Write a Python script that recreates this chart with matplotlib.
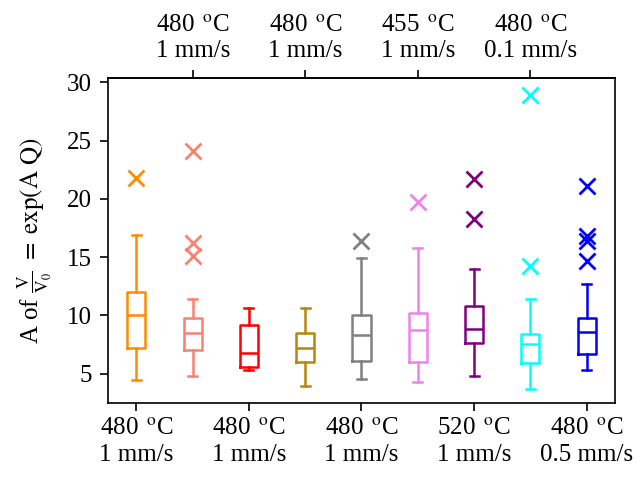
import matplotlib
matplotlib.use("Agg")
import matplotlib.pyplot as plt

plt.rcParams.update({
    "font.family": "serif",
    "font.serif": ["Liberation Serif", "DejaVu Serif"],
    "mathtext.fontset": "stix",
    "font.size": 18,
    "axes.linewidth": 1.2,
    "xtick.major.size": 6,
    "ytick.major.size": 6,
    "xtick.major.width": 1.2,
    "ytick.major.width": 1.2,
    "xtick.major.pad": 5,
    "ytick.major.pad": 6,
})

# ---- data ------------------------------------------------------------------
COLORS = ["darkorange", "salmon", "red", "darkgoldenrod", "gray",
          "violet", "purple", "cyan", "blue"]
WHISLO = [4.4, 4.8, 5.3, 3.9, 4.5, 4.3, 4.8, 3.7, 5.3]
Q1 = [7.2, 7.0, 5.6, 6.0, 6.1, 6.0, 7.6, 5.9, 6.7]
MED = [10.0, 8.5, 6.8, 7.2, 8.3, 8.7, 8.8, 7.5, 8.6]
Q3 = [12.0, 9.8, 9.2, 8.5, 10.0, 10.2, 10.8, 8.4, 9.8]
WHISHI = [16.9, 11.4, 10.6, 10.6, 14.9, 15.8, 14.0, 11.4, 12.7]
FLIERS = [[21.8], [24.1, 16.2, 15.1], [], [], [16.4], [19.7],
          [21.7, 18.3], [28.9, 14.2], [21.1, 16.8, 16.4, 14.7]]

DEG = " $^{\\,\\mathrm{o}}$C"
BOTTOM_LABELS = ["480" + DEG + "\n1 mm/s", "480" + DEG + "\n1 mm/s",
                 "480" + DEG + "\n1 mm/s", "520" + DEG + "\n1 mm/s",
                 "480" + DEG + "\n0.5 mm/s"]
TOP_LABELS = ["480" + DEG + "\n1 mm/s", "480" + DEG + "\n1 mm/s",
              "455" + DEG + "\n1 mm/s", "480" + DEG + "\n0.1 mm/s"]

fig = plt.figure(figsize=(6.37, 4.8), dpi=100)
ax = fig.add_axes([0.17, 0.16, 0.795, 0.678])

for i, c in enumerate(COLORS):
    st = dict(whislo=WHISLO[i], q1=Q1[i], med=MED[i], q3=Q3[i],
              whishi=WHISHI[i], fliers=FLIERS[i])
    lp = dict(color=c, linewidth=1.8)
    ax.bxp([st], positions=[i + 1], widths=0.32,
           boxprops=lp, medianprops=lp, whiskerprops=lp, capprops=lp,
           flierprops=dict(marker="x", markeredgecolor=c, markersize=12,
                           markeredgewidth=2, linestyle="none"))

ax.set_xlim(0.5, 9.5)
ax.set_ylim(2.45, 30.4)
ax.set_yticks([5, 10, 15, 20, 25, 30])
ax.set_xticks([1, 3, 5, 7, 9])
ax.set_xticklabels(BOTTOM_LABELS)
ax.set_ylabel("A of $\\mathrm{\\frac{V}{V_0}\\ =\\ exp(A\\ Q)}$", labelpad=9)

top = ax.secondary_xaxis("top")
top.set_xticks([2, 4, 6, 8])
top.set_xticklabels(TOP_LABELS)

fig.savefig("out.png", dpi=100)
